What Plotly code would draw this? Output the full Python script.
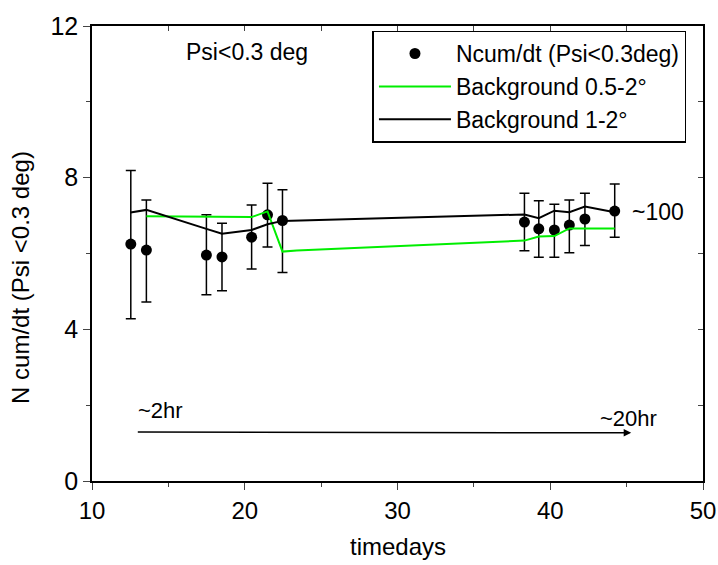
import plotly.graph_objects as go

# Data points: Ncum/dt (Psi<0.3deg)
pt_x = [12.54, 13.56, 17.49, 18.51, 20.45, 21.49, 22.47, 38.31, 39.25, 40.27, 41.25, 42.27, 44.22]
pt_y = [6.25, 6.09, 5.96, 5.91, 6.43, 7.02, 6.87, 6.83, 6.65, 6.62, 6.75, 6.91, 7.12]
err_up = [1.94, 1.32, 1.06, 0.89, 0.85, 0.83, 0.81, 0.76, 0.74, 0.68, 0.66, 0.68, 0.71]
err_dn = [1.97, 1.37, 1.05, 0.89, 0.84, 0.85, 1.37, 0.76, 0.75, 0.72, 0.73, 0.70, 0.69]

# Background 0.5-2 deg (green)
g_x = [13.56, 20.45, 21.49, 22.47, 23.4, 38.31, 39.25, 40.27, 41.25, 42.27, 44.22]
g_y = [6.98, 6.96, 7.11, 6.05, 6.08, 6.34, 6.45, 6.46, 6.66, 6.66, 6.66]

# Background 1-2 deg (black)
b_x = [12.52, 13.56, 17.49, 18.51, 20.45, 21.49, 22.47, 37.75, 38.31, 39.25, 40.27, 41.25, 42.27, 44.22]
b_y = [7.08, 7.15, 6.65, 6.52, 6.62, 6.77, 6.86, 7.03, 7.03, 6.93, 7.13, 7.09, 7.24, 7.09]

FONT = "Liberation Sans, Arial, sans-serif"

fig = go.Figure()
fig.add_trace(go.Scatter(
    x=pt_x, y=pt_y, mode="markers", name="Ncum/dt (Psi<0.3deg)",
    marker=dict(color="black", size=11),
    error_y=dict(type="data", symmetric=False, array=err_up, arrayminus=err_dn,
                 color="black", thickness=1.5, width=5),
    legendgroup="a",
))
fig.add_trace(go.Scatter(
    x=g_x, y=g_y, mode="lines", name="Background 0.5-2\u00b0",
    line=dict(color="#00ee00", width=2), legendgroup="b",
))
fig.add_trace(go.Scatter(
    x=b_x, y=b_y, mode="lines", name="Background 1-2\u00b0",
    line=dict(color="black", width=2), legendgroup="c",
))
# dummy trace for mirror tick axes
fig.add_trace(go.Scatter(x=[None], y=[None], xaxis="x2", yaxis="y2", showlegend=False, hoverinfo="skip"))

fig.update_layout(
    width=718, height=565,
    margin=dict(l=92, r=15, t=26, b=84),
    plot_bgcolor="white", paper_bgcolor="white",
    font=dict(family=FONT, color="black"),
    xaxis=dict(range=[10, 50], dtick=10, tick0=10, ticks="outside", ticklen=7, tickwidth=1.2,
               showline=True, linecolor="black", linewidth=1.5, mirror=True,
               showgrid=False, zeroline=False, tickfont=dict(size=24), automargin=False,
               ticklabeloverflow="allow",
               minor=dict(dtick=5, ticks="outside", ticklen=4, tickwidth=1.2)),
    yaxis=dict(range=[0, 12], dtick=4, ticks="outside", ticklen=7, tickwidth=1.2,
               showline=True, linecolor="black", linewidth=1.5, mirror=True,
               showgrid=False, zeroline=False, tickfont=dict(size=25), automargin=False,
               ticklabeloverflow="allow",
               minor=dict(dtick=2, ticks="outside", ticklen=4, tickwidth=1.2)),
    xaxis2=dict(range=[10, 50], overlaying="x", side="top", anchor="y", dtick=5, tick0=10,
                ticks="inside", ticklen=5, tickwidth=1.2, showticklabels=False, automargin=False,
                showgrid=False, zeroline=False, showline=False),
    yaxis2=dict(range=[0, 12], overlaying="y", side="right", anchor="x", dtick=2,
                ticks="inside", ticklen=5, tickwidth=1.2, showticklabels=False, automargin=False,
                showgrid=False, zeroline=False, showline=False),
    legend=dict(x=0.459, y=0.99, xanchor="left", yanchor="top",
                bgcolor="white", bordercolor="black", borderwidth=1.5,
                font=dict(size=23), tracegroupgap=0, traceorder="grouped",
                itemwidth=72, entrywidth=274, entrywidthmode="pixels"),
    showlegend=True,
)

# axis titles
fig.add_annotation(x=-0.116, y=5.36, xref="paper", yref="y", text="N cum/dt (Psi <0.3 deg)",
                   textangle=-90, showarrow=False, font=dict(size=24),
                   xanchor="center", yanchor="middle")
fig.add_annotation(x=0.5, y=-0.145, xref="paper", yref="paper", text="timedays",
                   showarrow=False, font=dict(size=24), xanchor="center", yanchor="middle")

fig.add_annotation(x=20.16, y=11.32, text="Psi<0.3 deg", showarrow=False,
                   font=dict(size=23), xref="x", yref="y")
fig.add_annotation(x=45.2, y=7.1, text="~100", showarrow=False, xanchor="left",
                   font=dict(size=23), xref="x", yref="y")
fig.add_annotation(x=12.9, y=1.87, text="~2hr", showarrow=False, xanchor="left",
                   font=dict(size=22), xref="x", yref="y")
fig.add_annotation(x=45.1, y=1.66, text="~20hr", showarrow=False, xanchor="center",
                   font=dict(size=22), xref="x", yref="y")
fig.add_annotation(x=45.3, y=1.27, ax=12.9, ay=1.29, xref="x", yref="y", axref="x", ayref="y",
                   text="", showarrow=True, arrowhead=2, arrowsize=1, arrowwidth=1.5,
                   arrowcolor="black")

fig.write_html("out.html")
